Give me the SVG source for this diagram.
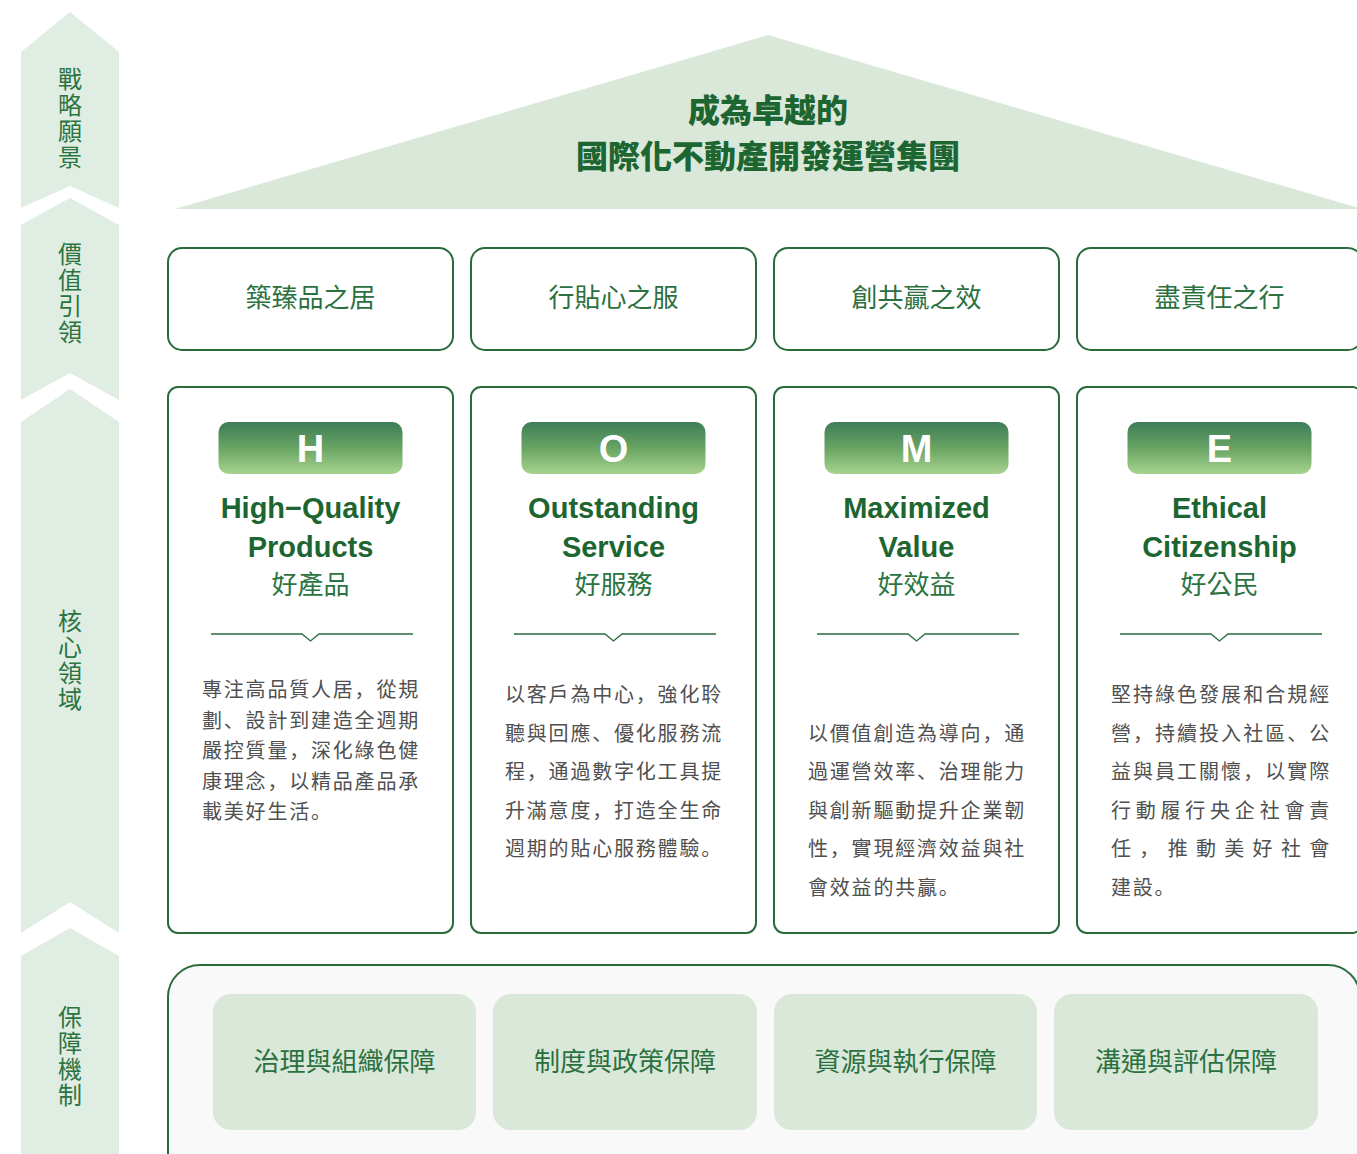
<svg xmlns="http://www.w3.org/2000/svg" width="1357" height="1154" viewBox="0 0 1357 1154">
<style>
.side{fill:#e0ede2}
.vt{font-family:"Noto Sans CJK TC","Noto Sans CJK SC",sans-serif;font-size:24px;fill:#2b7442;writing-mode:vertical-rl;letter-spacing:2px}
.title{font-family:"Noto Sans CJK TC","Noto Sans CJK SC",sans-serif;font-size:32px;font-weight:900;fill:#1d6531;text-anchor:middle}
.vbox{fill:#fff;stroke:#2a6b3c;stroke-width:2}
.vtxt{font-family:"Noto Sans CJK TC","Noto Sans CJK SC",sans-serif;font-size:26px;fill:#2b7040;text-anchor:middle}
.card{fill:#fff;stroke:#2a6b3c;stroke-width:2}
.badge{fill:url(#bg)}
.letter{font-family:"Liberation Sans",Arial,sans-serif;font-size:38px;font-weight:bold;fill:#fff;text-anchor:middle}
.en{font-family:"Liberation Sans",Arial,sans-serif;font-size:29px;font-weight:bold;fill:#1d6531;text-anchor:middle}
.zh{font-family:"Noto Sans CJK TC","Noto Sans CJK SC",sans-serif;font-size:26px;fill:#2b7442;text-anchor:middle}
.div{fill:none;stroke:#2a6b3c;stroke-width:1.3}
.body{font-family:"Noto Sans CJK SC","Noto Sans CJK TC",sans-serif;font-size:20px;letter-spacing:1.8px;fill:#505050}
.outer{fill:#f9f9f9;stroke:#2a6b3c;stroke-width:2}
.inner{fill:#d9e8d9}
.itxt{font-family:"Noto Sans CJK TC","Noto Sans CJK SC",sans-serif;font-size:26px;fill:#2b7040;text-anchor:middle}
</style>
<defs>
<linearGradient id="bg" x1="0" y1="0" x2="0" y2="1">
<stop offset="0" stop-color="#3d7d58"/>
<stop offset="0.5" stop-color="#68a462"/>
<stop offset="1" stop-color="#a8d38f"/>
</linearGradient>
</defs>
<rect width="1357" height="1154" fill="#fff"/>

<g id="side-vision">
<polygon class="side" points="21,52 70,12 119,52 119,208 70,186 21,208"/>
<text class="vt" x="70" y="67">戰略願景</text>
</g>
<g id="side-value">
<polygon class="side" points="21,225 70,198 119,225 119,400 70,373 21,400"/>
<text class="vt" x="70" y="242">價值引領</text>
</g>
<g id="side-core">
<polygon class="side" points="21,422 70,389 119,422 119,933 70,902 21,933"/>
<text class="vt" x="70" y="609">核心領域</text>
</g>
<g id="side-guarantee">
<polygon class="side" points="21,956 70,928 119,956 119,1154 21,1154"/>
<text class="vt" x="70" y="1005">保障機制</text>
</g>

<g id="roof">
<polygon points="175,209 768,35 1362,209" fill="#d9e8d9"/>
<text class="title" x="768" y="122">成為卓越的</text>
<text class="title" x="768" y="168">國際化不動產開發運營集團</text>
</g>

<g id="value-1"><rect class="vbox" x="168" y="248" width="285" height="102" rx="14"/><text class="vtxt" x="310.5" y="307">築臻品之居</text></g>
<g id="value-2"><rect class="vbox" x="471" y="248" width="285" height="102" rx="14"/><text class="vtxt" x="613.5" y="307">行貼心之服</text></g>
<g id="value-3"><rect class="vbox" x="774" y="248" width="285" height="102" rx="14"/><text class="vtxt" x="916.5" y="307">創共贏之效</text></g>
<g id="value-4"><rect class="vbox" x="1077" y="248" width="285" height="102" rx="14"/><text class="vtxt" x="1219.5" y="307">盡責任之行</text></g>

<g id="card-H">
<rect class="card" x="168" y="387" width="285" height="546" rx="10"/>
<rect class="badge" x="218.5" y="422" width="184" height="52" rx="10"/>
<text class="letter" x="310.5" y="462">H</text>
<text class="en" x="310.5" y="518">High−Quality</text>
<text class="en" x="310.5" y="557">Products</text>
<text class="zh" x="310.5" y="594">好產品</text>
<path class="div" d="M211 634 H302 L310.5 641 L319 634 H413"/>
<text class="body"><tspan x="202" y="697">專注高品質人居，從規</tspan><tspan x="202" y="728">劃、設計到建造全週期</tspan><tspan x="202" y="758">嚴控質量，深化綠色健</tspan><tspan x="202" y="789">康理念，以精品產品承</tspan><tspan x="202" y="819">載美好生活。</tspan></text>
</g>

<g id="card-O">
<rect class="card" x="471" y="387" width="285" height="546" rx="10"/>
<rect class="badge" x="521.5" y="422" width="184" height="52" rx="10"/>
<text class="letter" x="613.5" y="462">O</text>
<text class="en" x="613.5" y="518">Outstanding</text>
<text class="en" x="613.5" y="557">Service</text>
<text class="zh" x="613.5" y="594">好服務</text>
<path class="div" d="M514 634 H605 L613.5 641 L622 634 H716"/>
<text class="body"><tspan x="505" y="702">以客戶為中心，強化聆</tspan><tspan x="505" y="741">聽與回應、優化服務流</tspan><tspan x="505" y="779">程，通過數字化工具提</tspan><tspan x="505" y="818">升滿意度，打造全生命</tspan><tspan x="505" y="856">週期的貼心服務體驗。</tspan></text>
</g>

<g id="card-M">
<rect class="card" x="774" y="387" width="285" height="546" rx="10"/>
<rect class="badge" x="824.5" y="422" width="184" height="52" rx="10"/>
<text class="letter" x="916.5" y="462">M</text>
<text class="en" x="916.5" y="518">Maximized</text>
<text class="en" x="916.5" y="557">Value</text>
<text class="zh" x="916.5" y="594">好效益</text>
<path class="div" d="M817 634 H908 L916.5 641 L925 634 H1019"/>
<text class="body"><tspan x="808" y="741">以價值創造為導向，通</tspan><tspan x="808" y="779">過運營效率、治理能力</tspan><tspan x="808" y="818">與創新驅動提升企業韌</tspan><tspan x="808" y="856">性，實現經濟效益與社</tspan><tspan x="808" y="895">會效益的共贏。</tspan></text>
</g>

<g id="card-E">
<rect class="card" x="1077" y="387" width="285" height="546" rx="10"/>
<rect class="badge" x="1127.5" y="422" width="184" height="52" rx="10"/>
<text class="letter" x="1219.5" y="462">E</text>
<text class="en" x="1219.5" y="518">Ethical</text>
<text class="en" x="1219.5" y="557">Citizenship</text>
<text class="zh" x="1219.5" y="594">好公民</text>
<path class="div" d="M1120 634 H1211 L1219.5 641 L1228 634 H1322"/>
<text class="body"><tspan x="1111" y="702" textLength="220" lengthAdjust="spacing">堅持綠色發展和合規經</tspan><tspan x="1111" y="741" textLength="220" lengthAdjust="spacing">營，持續投入社區、公</tspan><tspan x="1111" y="779" textLength="220" lengthAdjust="spacing">益與員工關懷，以實際</tspan><tspan x="1111" y="818" textLength="220" lengthAdjust="spacing">行動履行央企社會責</tspan><tspan x="1111" y="856" textLength="220" lengthAdjust="spacing">任，推動美好社會</tspan><tspan x="1111" y="895">建設。</tspan></text>
</g>

<g id="guarantee">
<rect class="outer" x="168" y="965" width="1192" height="240" rx="32"/>
</g>
<g id="g-1"><rect class="inner" x="213" y="994" width="263" height="136" rx="18"/><text class="itxt" x="344.5" y="1071">治理與組織保障</text></g>
<g id="g-2"><rect class="inner" x="493" y="994" width="264" height="136" rx="18"/><text class="itxt" x="625" y="1071">制度與政策保障</text></g>
<g id="g-3"><rect class="inner" x="774" y="994" width="263" height="136" rx="18"/><text class="itxt" x="905.5" y="1071">資源與執行保障</text></g>
<g id="g-4"><rect class="inner" x="1054" y="994" width="264" height="136" rx="18"/><text class="itxt" x="1186" y="1071">溝通與評估保障</text></g>

<g id="connectors"></g>
</svg>
